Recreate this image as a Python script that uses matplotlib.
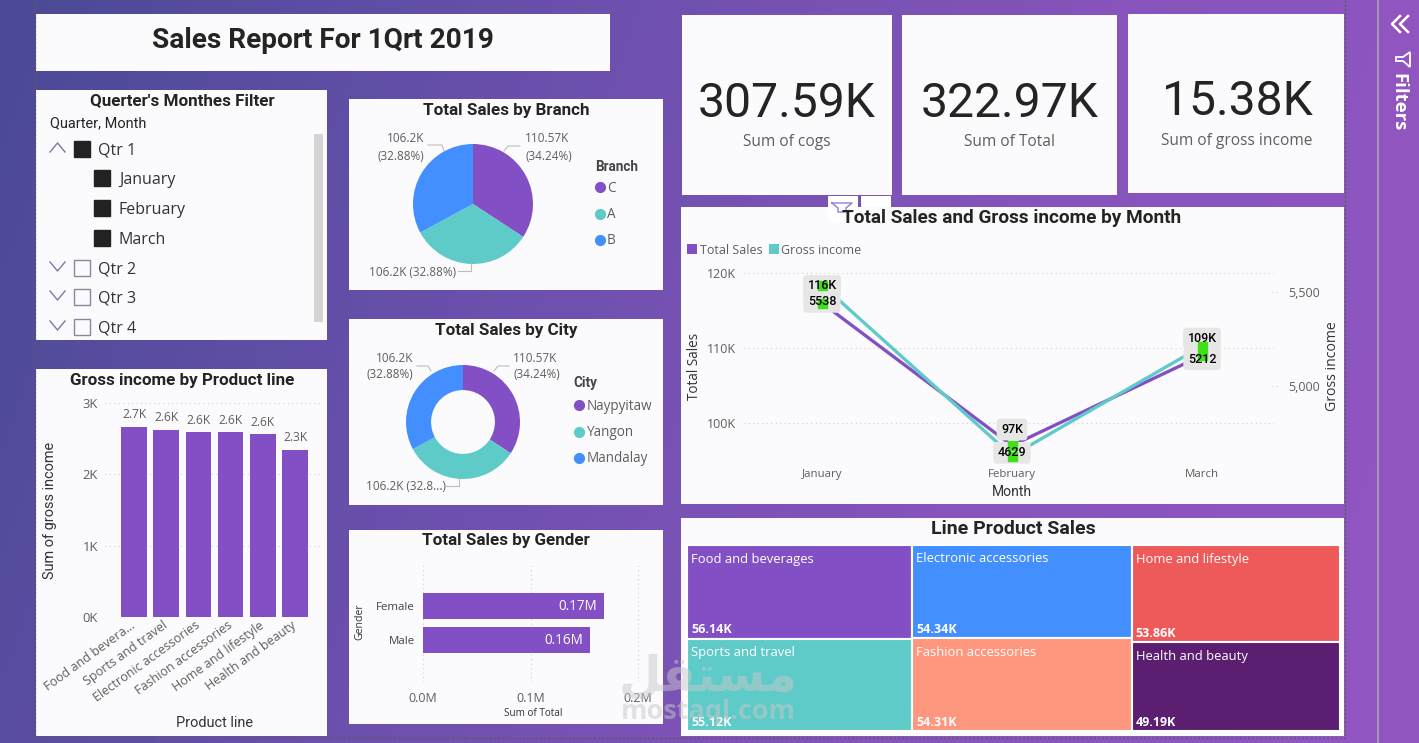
import numpy as np
import matplotlib
matplotlib.use("Agg")
import matplotlib.pyplot as plt
from matplotlib.patches import Rectangle, Polygon
from matplotlib.colors import LinearSegmentedColormap
from matplotlib.transforms import ScaledTranslation

# ---- data ----
kpi_values = ["307.59K", "322.97K", "15.38K"]
kpi_names = ["Sum of cogs", "Sum of Total", "Sum of gross income"]

branch_names = ["C", "A", "B"]
city_names = ["Naypyitaw", "Yangon", "Mandalay"]
share_values = [110.57, 106.2, 106.2]

product_lines = ["Food and bevera...", "Sports and travel", "Electronic accessories",
                 "Fashion accessories", "Home and lifestyle", "Health and beauty"]
product_income = [2.67, 2.62, 2.59, 2.59, 2.56, 2.34]

genders = ["Female", "Male"]
gender_totals = [0.168, 0.1551]

months = ["January", "February", "March"]
month_sales = [116, 97, 109]
month_income = [5538, 4629, 5212]

tree_columns = [
    [("Food and beverages", 56.14), ("Sports and travel", 55.12)],
    [("Electronic accessories", 54.34), ("Fashion accessories", 54.31)],
    [("Home and lifestyle", 53.86), ("Health and beauty", 49.19)],
]

quarters = ["Qtr 1", "Qtr 2", "Qtr 3", "Qtr 4"]
q1_months = ["January", "February", "March"]

# ---- styling ----
W, H = 1419, 743
PURPLE, TEAL, BLUE = "#8250c4", "#5ecbc8", "#438fff"
TREE_COLORS = [[PURPLE, TEAL], [BLUE, "#ff977e"], ["#ee5a5a", "#5b1e70"]]
PANEL = "#fbfafd"
INK = "#252423"
GREY = "#605e5c"
HEAD = "Roboto"
BODY = "Open Sans"
PX = 0.72  # points per pixel at 100 dpi

plt.rcParams["font.family"] = BODY
fig = plt.figure(figsize=(W / 100, H / 100), dpi=100)


def pixel_axes(x0, y0, x1, y1, z=2):
    """Axes placed by pixel box, measured from the top-left of the page."""
    ax = fig.add_axes([x0 / W, 1 - y1 / H, (x1 - x0) / W, (y1 - y0) / H], zorder=z)
    ax.patch.set_alpha(0)
    return ax


# page background and panels
page = pixel_axes(0, 0, W, H, z=0)
yy, xx = np.mgrid[0:1:200j, 0:1:400j]
cmap = LinearSegmentedColormap.from_list("page", ["#4a4a96", "#6a50ac", "#8654bc", "#9256c2"])
page.imshow(0.85 * xx + 0.15 * yy, extent=(0, W, H, 0), cmap=cmap, aspect="auto", vmin=0, vmax=1,
            interpolation="bilinear")
page.set_xlim(0, W)
page.set_ylim(H, 0)
page.axis("off")

panels = [(36, 14, 610, 71), (36, 90, 327, 340), (349, 99, 663, 290), (349, 319, 663, 505),
          (349, 530, 663, 724), (36, 369, 327, 736), (682, 15, 892, 195), (902, 15, 1117, 195),
          (1128, 14, 1344, 193), (681, 207, 1344, 504), (681, 518, 1344, 736)]
for x0, y0, x1, y1 in panels:
    page.add_patch(Rectangle((x0, y0), x1 - x0, y1 - y0, fc=PANEL, ec="none"))

# report canvas edge and the filter pane divider
dots = dict(color="#5a5a5a", lw=1, ls=(0, (1.5, 1.5)))
page.plot([35, 35], [0, 738], **dots)
page.plot([1345, 1345], [0, 738], **dots)
page.plot([35, 1345], [738, 738], **dots)
page.add_patch(Rectangle((1379, 0), 40, H, fc="#9055bf", ec="none"))
page.plot([1378, 1378], [0, H], color="#a9a4b4", lw=1.2)

# visual header tabs over the line chart
page.add_patch(Rectangle((828, 196), 30, 26, fc="#ffffff", ec="none"))
page.add_patch(Rectangle((861, 196), 30, 11, fc="#ffffff", ec="none"))
page.plot([832, 852, 846, 846, 838, 838, 832], [203, 203, 208, 212, 212, 208, 203], color="#9a7bd0", lw=1)

text = pixel_axes(0, 0, W, H, z=5)
text.set_xlim(0, W)
text.set_ylim(H, 0)
text.axis("off")


def put(x, y, s, size, color=INK, ha="left", weight="normal", family=BODY, rot=0, **kw):
    # nudge compensates for the fonts sitting slightly high in their line box
    nudge = 0 if rot else (2 if family == HEAD else 1)
    return text.text(x, y + nudge, s, fontsize=size * PX, color=color, ha=ha, va="center",
                     fontweight=weight, family=family, rotation=rot, **kw)


# filter pane glyphs
for dx in (0, 8):
    text.plot(np.array([1400, 1392, 1400]) + dx, [16, 24, 32], color="white", lw=1.8)
text.add_patch(Polygon([(1410, 52), (1410, 67), (1403, 61), (1396, 61), (1396, 57), (1403, 57)],
                       closed=True, fc="none", ec="white", lw=1.3))
put(1398, 102, "Filters", 18.5, color="white", ha="center", weight="bold", family=BODY, rot=270)

# headline and KPI cards
put(323, 39, "Sales Report For 1Qrt 2019", 28, ha="center", weight="bold", family=HEAD)
for cx, value, name, vy, ny in zip((787, 1010, 1237), kpi_values, kpi_names, (102, 102, 100), (141, 141, 140)):
    put(cx, vy, value, 48, ha="center", family=HEAD)
    put(cx, ny, name, 15.5, color=GREY, ha="center")

# quarter slicer
put(182, 99, "Querter's Monthes Filter", 17, ha="center", weight="bold", family=HEAD)
put(50, 121, "Quarter, Month", 14.5, family=HEAD)
page.add_patch(Rectangle((314, 134), 9, 188, fc="#d4d4d4", ec="none"))
for q, top in zip(quarters, (141, 260, 289, 319)):
    filled = q == "Qtr 1"
    text.add_patch(Rectangle((74, top), 16, 16, fc="#222222" if filled else "none",
                             ec="#222222" if filled else "#8a86a0", lw=1))
    chevron = [top + 11, top + 2, top + 11] if filled else [top + 2, top + 11, top + 2]
    text.plot([50, 57.5, 65], chevron, color="#7a78a8", lw=1)
    put(98, top + 8.5, q, 16, color="#333333")
for m, top in zip(q1_months, (170, 200, 230)):
    text.add_patch(Rectangle((94, top), 16, 16, fc="#222222", ec="#222222", lw=1))
    put(119, top + 9.5, m, 16, color="#333333")


def pie_panel(cx, cy, r, colors, width=None):
    ax = pixel_axes(cx - r, cy - r, cx + r, cy + r)
    props = {"edgecolor": "none"}
    if width:
        props["width"] = width
    ax.pie(share_values, colors=colors, startangle=90, counterclock=False, radius=1, wedgeprops=props)
    ax.set_xlim(-1, 1)
    ax.set_ylim(-1, 1)
    return ax


slice_colors = [PURPLE, TEAL, BLUE]
leader = dict(color="#bdbdbd", lw=0.8)

# branch pie
put(506, 108, "Total Sales by Branch", 17, ha="center", weight="bold", family=HEAD)
pie_panel(473, 204, 60, slice_colors)
put(525, 137, f"{share_values[0]}K", 11.8, color=GREY)
put(525, 155, "(34.24%)", 11.8, color=GREY)
put(424, 137, f"{share_values[2]}K", 11.8, color=GREY, ha="right")
put(424, 155, "(32.88%)", 11.8, color=GREY, ha="right")
put(369, 271, f"{share_values[1]}K (32.88%)", 11.8, color=GREY)
text.plot([520, 508, 504], [146, 146, 151], **leader)
text.plot([428, 442, 444], [145, 145, 151], **leader)
text.plot([458, 471, 471], [271, 271, 264], **leader)
put(595, 165, "Branch", 13.5, weight="bold", family=HEAD, color="#444444")
for name, color, y in zip(branch_names, slice_colors, (187, 214, 240)):
    text.scatter([600], [y], s=65, color=color, linewidths=0)
    put(607, y, name, 13.5, color=GREY)

# city donut
put(506, 328, "Total Sales by City", 17, ha="center", weight="bold", family=HEAD)
pie_panel(463, 422, 57, slice_colors, width=0.44)
put(513, 357, f"{share_values[0]}K", 11.8, color=GREY)
put(513, 374, "(34.24%)", 11.8, color=GREY)
put(413, 357, f"{share_values[2]}K", 11.8, color=GREY, ha="right")
put(413, 374, "(32.88%)", 11.8, color=GREY, ha="right")
put(366, 486, f"{share_values[1]}K (32.8...)", 11.8, color=GREY)
text.plot([509, 498, 494], [366, 366, 371], **leader)
text.plot([417, 428, 431], [366, 366, 371], **leader)
text.plot([446, 459, 459], [486, 486, 479], **leader)
put(573, 381, "City", 13.5, weight="bold", family=HEAD, color="#444444")
for name, color, y in zip(city_names, slice_colors, (405, 432, 458)):
    text.scatter([579], [y], s=65, color=color, linewidths=0)
    put(587, y, name, 13.5, color=GREY)

# gross income by product line
put(182, 378, "Gross income by Product line", 17, ha="center", weight="bold", family=HEAD)
ax = pixel_axes(105, 398, 320, 617)
xs = np.arange(len(product_lines))
ax.bar(xs, product_income, width=0.8, color=PURPLE, zorder=3)
ax.set_xlim(-29 / 32.2, 186 / 32.2)
ax.set_ylim(0, 219 / 71.3)
ax.set_yticks([0, 1, 2, 3], ["0K", "1K", "2K", "3K"], fontsize=13 * PX, color=GREY)
ax.set_xticks(xs)
ax.set_xticklabels(product_lines, rotation=36, ha="right", va="center", rotation_mode="anchor",
                   fontsize=12.5 * PX, color=GREY)
shift = ScaledTranslation(-6 / 100, -3 / 100, fig.dpi_scale_trans)
for lab in ax.get_xticklabels():
    lab.set_transform(lab.get_transform() + shift)
ax.tick_params(length=0, pad=5)
ax.grid(axis="y", color="#cfcfcf", ls=(0, (1, 3)), lw=0.8, zorder=0)
for s in ax.spines.values():
    s.set_visible(False)
for x, v in zip(xs, product_income):
    ax.text(x, v + 0.08, f"{v:.1f}K", ha="center", va="bottom", fontsize=12 * PX, color=GREY)
put(50, 510, "Sum of gross income", 14.5, ha="center", rot=90, color="#333333", family=HEAD)
put(215, 721, "Product line", 14.5, ha="center", color="#333333", family=HEAD)

# sales by gender
put(506, 539, "Total Sales by Gender", 17, ha="center", weight="bold", family=HEAD)
ax = pixel_axes(423, 565, 645, 682)
ys = np.arange(len(genders))
ax.barh(ys, gender_totals, height=0.74, color=PURPLE, zorder=3)
ax.set_xlim(0, 222 / 1075)
ax.set_ylim(1 + 42 / 34, -41 / 34)
ax.set_xticks([0, 0.1, 0.2], ["0.0M", "0.1M", "0.2M"], fontsize=12.5 * PX, color=GREY)
ax.set_yticks(ys, genders, fontsize=11.5 * PX, color="#444444")
ax.tick_params(axis="y", length=0, pad=5.8)
ax.tick_params(axis="x", length=0, pad=7)
ax.grid(axis="x", color="#cfcfcf", ls=(0, (1, 3)), lw=0.8, zorder=0)
for s in ax.spines.values():
    s.set_visible(False)
for y, v in zip(ys, gender_totals):
    ax.text(v - 0.006, y, f"{v:.2f}M", ha="right", va="center", color="white", fontsize=13.5 * PX, zorder=4)
put(533, 712, "Sum of Total", 10, ha="center", color="#333333")
put(360, 622, "Gender", 10.5, ha="center", rot=90, color="#333333")

# monthly sales against gross income on two value axes
put(1012, 216, "Total Sales and Gross income by Month", 19, ha="center", weight="bold", family=HEAD)
page.add_patch(Rectangle((687, 244), 10, 10, fc=PURPLE, ec="none"))
page.add_patch(Rectangle((769, 244), 10, 10, fc=TEAL, ec="none"))
put(700, 249, "Total Sales", 12.5, color=GREY)
put(781, 249, "Gross income", 12.5, color=GREY)

ax = pixel_axes(744, 262, 1274, 462)
mx = np.arange(len(months))
ax.plot(mx, month_sales, color=PURPLE, lw=3.3 * PX, zorder=3)
ax.set_xlim(-78 / 190, 2 + 72 / 190)
ax.set_ylim(100 - 39 / 7.5, 100 + 161 / 7.5)
ax.set_yticks([100, 110, 120], ["100K", "110K", "120K"], fontsize=12.5 * PX, color=GREY)
ax.set_xticks(mx, months, fontsize=11.5 * PX, color=GREY)
ax.tick_params(axis="x", length=0, pad=5)
ax.tick_params(axis="y", length=0, pad=6)
ax.grid(axis="y", color="#cfcfcf", ls=(0, (1, 3)), lw=0.8, zorder=0)

ax2 = ax.twinx()
ax2.patch.set_alpha(0)
ax2.plot(mx, month_income, color=TEAL, lw=3.3 * PX, zorder=4)
ax2.set_ylim(5000 - 76 / 0.188, 5000 + 124 / 0.188)
ax2.set_yticks([5000, 5500], ["5,000", "5,500"], fontsize=12.5 * PX, color=GREY)
ax2.tick_params(length=0, pad=10)
for a in (ax, ax2):
    for s in a.spines.values():
        s.set_visible(False)
text.plot([1272, 1279], [292, 292], color="#cfcfcf", ls=(0, (1, 3)), lw=0.8)
text.plot([1272, 1279], [386, 386], color="#cfcfcf", ls=(0, (1, 3)), lw=0.8)

# label plates sit under the green markers, label text on top of them
green = dict(ls="none", marker="s", ms=9 * PX, color="#3fe01a", zorder=6)
ax2.plot(mx, month_sales, transform=ax.transData, **green)
ax2.plot(mx, month_income, **green)
plate = dict(boxstyle="round,pad=0.35,rounding_size=0.3", fc="#e6e6e6", ec="none")
series = [(month_sales, ax, "{}K", [17, 16, 17]), (month_income, ax2, "{}", [-17, 3, -13])]
for values, owner, fmt, offsets in series:
    for x, v, off in zip(mx, values, offsets):
        for z, col, bg in ((5, "none", plate), (7, "black", None)):
            ax2.annotate(fmt.format(v), (x, v), xycoords=owner.transData, xytext=(0, off * PX),
                         textcoords="offset points", ha="center", va="center", fontsize=12.5 * PX,
                         family=HEAD, fontweight="medium", color=col, bbox=bg, zorder=z,
                         annotation_clip=False)

put(695, 366, "Total Sales", 13.5, ha="center", rot=90, color="#333333")
put(1332, 366, "Gross income", 14, ha="center", rot=90, color="#333333")
put(1012, 490, "Month", 14, ha="center", color="#333333", family=HEAD)

# treemap: column widths and cell heights follow the values
put(1013, 527, "Line Product Sales", 19.5, ha="center", weight="bold", family=HEAD)
tree = pixel_axes(687, 545, 1340, 731)
tree.set_xlim(0, 1)
tree.set_ylim(1, 0)
tree.axis("off")
grand = sum(v for col in tree_columns for _, v in col)
left = 0.0
for col, shades in zip(tree_columns, TREE_COLORS):
    col_sum = sum(v for _, v in col)
    top = 0.0
    for (name, v), shade in zip(col, shades):
        w, h = col_sum / grand, v / col_sum
        tree.add_patch(Rectangle((left, top), w, h, fc=shade, ec="white", lw=1.5, clip_on=False))
        px0, py0 = 687 + left * 653, 545 + top * 186
        put(px0 + 4, py0 + 13, name, 13, color="white")
        put(px0 + 4, py0 + h * 186 - 10, f"{v:.2f}K", 12.5, color="white", weight="bold")
        top += h
    left += w

# site watermark
mark = pixel_axes(0, 0, W, H, z=9)
mark.set_xlim(0, W)
mark.set_ylim(H, 0)
mark.axis("off")
mark.text(708, 676, "\ufede\ufed8\ufe98\ufeb4\ufee3", fontsize=49 * PX, ha="center", va="center",
          color="#c8c8c8", alpha=0.5, family="DejaVu Sans", fontweight="bold")
mark.text(708, 712, "mostaql.com", fontsize=27 * PX, ha="center", va="center",
          color="#c8c8c8", alpha=0.5, family="Open Sans", fontweight="bold")

fig.savefig("out.png", dpi=100)
